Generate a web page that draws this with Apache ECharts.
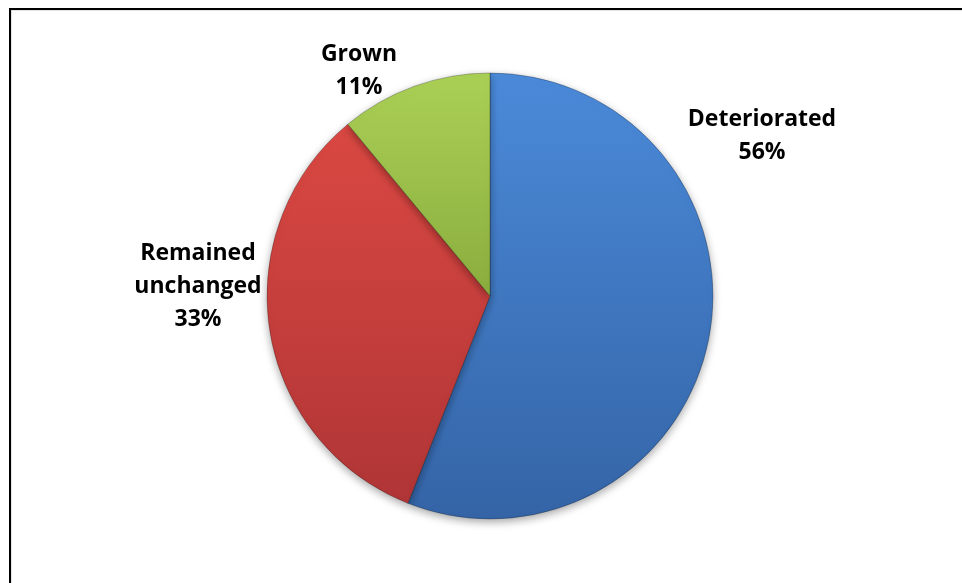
<!DOCTYPE html>
<html>
<head>
<meta charset="utf-8">
<script src="https://cdn.jsdelivr.net/npm/echarts@6/dist/echarts.min.js"></script>
<style>
  html, body { margin: 0; padding: 0; background: #fff; }
  #chart { width: 962px; height: 583px; }
</style>
</head>
<body>
<div id="chart"></div>
<script>
// slice data, clockwise from 12 o'clock
const categories = ['Deteriorated', 'Remained unchanged', 'Grown'];
const labelTexts = ['Deteriorated', 'Remained\nunchanged', 'Grown'];
const values = [56, 33, 11];

// top / bottom shades for each slice
const topColors = ['#4b8ad9', '#da4842', '#abd056'];
const bottomColors = ['#3464a6', '#b03536', '#8aad3e'];

// where Excel put the labels (centre of each text block)
const labelSpots = [[762, 136], [198, 286], [359, 71]];

const chart = echarts.init(document.getElementById('chart'));

const pieData = categories.map((name, i) => ({
  name: name,
  value: values[i],
  itemStyle: {
    color: new echarts.graphic.LinearGradient(0, 0, 0, 1, [
      { offset: 0, color: topColors[i] },
      { offset: 1, color: bottomColors[i] }
    ])
  }
}));

const option = {
  animation: false,
  backgroundColor: '#fff',
  graphic: [
    // frame, runs off the right and bottom edge like the reference
    {
      type: 'rect',
      shape: { x: 11, y: 10, width: 1000, height: 1000 },
      style: { fill: 'none', stroke: '#c8c8c8', lineWidth: 1 }
    },
    {
      type: 'rect',
      shape: { x: 10, y: 9, width: 1000, height: 1000 },
      style: { fill: 'none', stroke: '#000', lineWidth: 2 }
    }
  ],
  series: [
    {
      type: 'pie',
      center: [490, 296],
      radius: 223,
      startAngle: 90,
      clockwise: true,
      data: pieData,
      itemStyle: {
        borderColor: 'rgba(0,0,0,0.25)',
        borderWidth: 1,
        shadowBlur: 8,
        shadowOffsetY: 3,
        shadowColor: 'rgba(0,0,0,0.35)'
      },
      label: {
        show: true,
        position: 'outside',
        formatter: (p) => labelTexts[p.dataIndex] + '\n' + p.percent.toFixed(0) + '%',
        fontFamily: 'Open Sans',
        fontWeight: 'bold',
        fontSize: 23,
        lineHeight: 33,
        color: '#000',
        align: 'center'
      },
      labelLine: { show: false },
      labelLayout: (params) => ({
        x: labelSpots[params.dataIndex][0],
        y: labelSpots[params.dataIndex][1],
        align: 'center',
        verticalAlign: 'middle'
      }),
      emphasis: { disabled: true }
    }
  ]
};

chart.setOption(option);
</script>
</body>
</html>
